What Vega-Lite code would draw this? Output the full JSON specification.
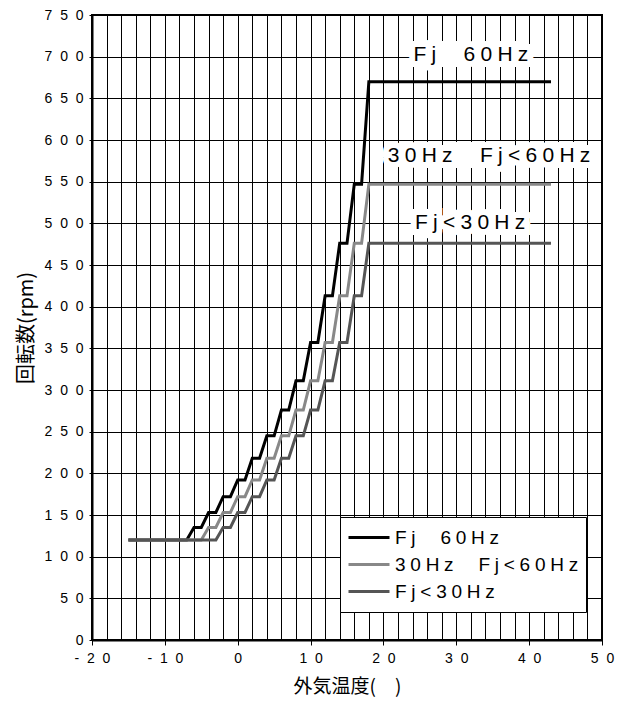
{
  "$schema": "https://vega.github.io/schema/vega-lite/v6.json",
  "width": 510,
  "height": 625,
  "autosize": {"type": "none"},
  "padding": {"left": 92, "top": 15, "right": 24, "bottom": 66},
  "background": "white",
  "config": {
    "view": {"stroke": "#000", "strokeWidth": 2},
    "font": "Liberation Sans",
    "axis": {
      "domainColor": "#000", "domainWidth": 2,
      "tickColor": "#000", "tickWidth": 1,
      "labelFont": "Liberation Sans", "labelFontSize": 14, "labelColor": "#000",
      "labelFlush": false, "labelOverlap": false,
      "titleFont": "Noto Sans CJK JP", "titleFontSize": 19, "titleFontWeight": "normal", "titleColor": "#000",
      "grid": true, "gridColor": "#000", "gridWidth": 1, "gridOpacity": 1
    }
  },
  "datasets": {
    "curves": [
      {"mode": "Fj  60Hz", "temp": -15, "rpm": 120},
      {"mode": "Fj  60Hz", "temp": -7, "rpm": 120},
      {"mode": "Fj  60Hz", "temp": -6, "rpm": 135},
      {"mode": "Fj  60Hz", "temp": -5, "rpm": 135},
      {"mode": "Fj  60Hz", "temp": -4, "rpm": 153},
      {"mode": "Fj  60Hz", "temp": -3, "rpm": 153},
      {"mode": "Fj  60Hz", "temp": -2, "rpm": 172},
      {"mode": "Fj  60Hz", "temp": -1, "rpm": 172},
      {"mode": "Fj  60Hz", "temp": 0, "rpm": 192},
      {"mode": "Fj  60Hz", "temp": 1, "rpm": 192},
      {"mode": "Fj  60Hz", "temp": 2, "rpm": 218},
      {"mode": "Fj  60Hz", "temp": 3, "rpm": 218},
      {"mode": "Fj  60Hz", "temp": 4, "rpm": 245},
      {"mode": "Fj  60Hz", "temp": 5, "rpm": 245},
      {"mode": "Fj  60Hz", "temp": 6, "rpm": 276},
      {"mode": "Fj  60Hz", "temp": 7, "rpm": 276},
      {"mode": "Fj  60Hz", "temp": 8, "rpm": 311},
      {"mode": "Fj  60Hz", "temp": 9, "rpm": 311},
      {"mode": "Fj  60Hz", "temp": 10, "rpm": 357},
      {"mode": "Fj  60Hz", "temp": 11, "rpm": 357},
      {"mode": "Fj  60Hz", "temp": 12, "rpm": 413},
      {"mode": "Fj  60Hz", "temp": 13, "rpm": 413},
      {"mode": "Fj  60Hz", "temp": 14, "rpm": 476},
      {"mode": "Fj  60Hz", "temp": 15, "rpm": 476},
      {"mode": "Fj  60Hz", "temp": 16, "rpm": 547},
      {"mode": "Fj  60Hz", "temp": 17, "rpm": 547},
      {"mode": "Fj  60Hz", "temp": 18, "rpm": 670},
      {"mode": "Fj  60Hz", "temp": 43, "rpm": 670},
      {"mode": "30Hz  Fj<60Hz", "temp": -15, "rpm": 120},
      {"mode": "30Hz  Fj<60Hz", "temp": -5, "rpm": 120},
      {"mode": "30Hz  Fj<60Hz", "temp": -4, "rpm": 135},
      {"mode": "30Hz  Fj<60Hz", "temp": -3, "rpm": 135},
      {"mode": "30Hz  Fj<60Hz", "temp": -2, "rpm": 153},
      {"mode": "30Hz  Fj<60Hz", "temp": -1, "rpm": 153},
      {"mode": "30Hz  Fj<60Hz", "temp": 0, "rpm": 172},
      {"mode": "30Hz  Fj<60Hz", "temp": 1, "rpm": 172},
      {"mode": "30Hz  Fj<60Hz", "temp": 2, "rpm": 192},
      {"mode": "30Hz  Fj<60Hz", "temp": 3, "rpm": 192},
      {"mode": "30Hz  Fj<60Hz", "temp": 4, "rpm": 218},
      {"mode": "30Hz  Fj<60Hz", "temp": 5, "rpm": 218},
      {"mode": "30Hz  Fj<60Hz", "temp": 6, "rpm": 245},
      {"mode": "30Hz  Fj<60Hz", "temp": 7, "rpm": 245},
      {"mode": "30Hz  Fj<60Hz", "temp": 8, "rpm": 276},
      {"mode": "30Hz  Fj<60Hz", "temp": 9, "rpm": 276},
      {"mode": "30Hz  Fj<60Hz", "temp": 10, "rpm": 311},
      {"mode": "30Hz  Fj<60Hz", "temp": 11, "rpm": 311},
      {"mode": "30Hz  Fj<60Hz", "temp": 12, "rpm": 357},
      {"mode": "30Hz  Fj<60Hz", "temp": 13, "rpm": 357},
      {"mode": "30Hz  Fj<60Hz", "temp": 14, "rpm": 413},
      {"mode": "30Hz  Fj<60Hz", "temp": 15, "rpm": 413},
      {"mode": "30Hz  Fj<60Hz", "temp": 16, "rpm": 476},
      {"mode": "30Hz  Fj<60Hz", "temp": 17, "rpm": 476},
      {"mode": "30Hz  Fj<60Hz", "temp": 18, "rpm": 547},
      {"mode": "30Hz  Fj<60Hz", "temp": 43, "rpm": 547},
      {"mode": "Fj<30Hz", "temp": -15, "rpm": 120},
      {"mode": "Fj<30Hz", "temp": -3, "rpm": 120},
      {"mode": "Fj<30Hz", "temp": -2, "rpm": 135},
      {"mode": "Fj<30Hz", "temp": -1, "rpm": 135},
      {"mode": "Fj<30Hz", "temp": 0, "rpm": 153},
      {"mode": "Fj<30Hz", "temp": 1, "rpm": 153},
      {"mode": "Fj<30Hz", "temp": 2, "rpm": 172},
      {"mode": "Fj<30Hz", "temp": 3, "rpm": 172},
      {"mode": "Fj<30Hz", "temp": 4, "rpm": 192},
      {"mode": "Fj<30Hz", "temp": 5, "rpm": 192},
      {"mode": "Fj<30Hz", "temp": 6, "rpm": 218},
      {"mode": "Fj<30Hz", "temp": 7, "rpm": 218},
      {"mode": "Fj<30Hz", "temp": 8, "rpm": 245},
      {"mode": "Fj<30Hz", "temp": 9, "rpm": 245},
      {"mode": "Fj<30Hz", "temp": 10, "rpm": 276},
      {"mode": "Fj<30Hz", "temp": 11, "rpm": 276},
      {"mode": "Fj<30Hz", "temp": 12, "rpm": 311},
      {"mode": "Fj<30Hz", "temp": 13, "rpm": 311},
      {"mode": "Fj<30Hz", "temp": 14, "rpm": 357},
      {"mode": "Fj<30Hz", "temp": 15, "rpm": 357},
      {"mode": "Fj<30Hz", "temp": 16, "rpm": 413},
      {"mode": "Fj<30Hz", "temp": 17, "rpm": 413},
      {"mode": "Fj<30Hz", "temp": 18, "rpm": 476},
      {"mode": "Fj<30Hz", "temp": 43, "rpm": 476}
    ],
    "notes": [
      {"label": "Fj  60Hz", "temp": 32.0, "rpm": 702},
      {"label": "30Hz  Fj<60Hz", "temp": 34.5, "rpm": 581},
      {"label": "Fj<30Hz", "temp": 31.9, "rpm": 500}
    ]
  },
  "layer": [
    {
      "data": {"name": "curves"},
      "mark": {"type": "line", "strokeWidth": 3, "strokeJoin": "miter"},
      "encoding": {
        "x": {
          "field": "temp", "type": "quantitative",
          "scale": {"domain": [-20, 50], "nice": false, "zero": false},
          "axis": {
            "values": [-20,-18,-16,-14,-12,-10,-8,-6,-4,-2,0,2,4,6,8,10,12,14,16,18,20,22,24,26,28,30,32,34,36,38,40,42,44,46,48,50],
            "tickCount": 100,
            "labelExpr": "datum.value % 10 === 0 ? replace('' + datum.value, regexp('(.)(?=.)','g'), '$1\u2007') : ''",
            "tickSize": 5,
            "tickOpacity": {"condition": {"test": "datum.value % 10 === 0", "value": 1}, "value": 0},
            "labelPadding": 6,
            "title": "外気温度(　)",
            "titlePadding": 12
          }
        },
        "y": {
          "field": "rpm", "type": "quantitative",
          "scale": {"domain": [0, 750], "nice": false, "zero": true},
          "axis": {
            "values": [0,50,100,150,200,250,300,350,400,450,500,550,600,650,700,750],
            "tickCount": 100,
            "labelExpr": "replace('' + datum.value, regexp('(.)(?=.)','g'), '$1\u2007')",
            "tickSize": 3,
            "labelPadding": 6,
            "title": "回転数(rpm)",
            "titleFontSize": 20,
            "titlePadding": 8
          }
        },
        "color": {
          "field": "mode", "type": "nominal",
          "scale": {"domain": ["Fj  60Hz", "30Hz  Fj<60Hz", "Fj<30Hz"], "range": ["#000000", "#888888", "#555555"]},
          "legend": {
            "title": null,
            "orient": "none", "legendX": 248, "legendY": 502,
            "direction": "vertical",
            "symbolType": "stroke", "symbolSize": 1681, "symbolStrokeWidth": 3,
            "labelFont": "Liberation Sans", "labelFontSize": 19, "labelColor": "#000",
            "labelExpr": "replace(datum.label, regexp('(.)(?=.)','g'), '$1\u2005')",
            "labelLimit": 400, "labelOffset": 4,
            "strokeColor": "#000", "fillColor": "#fff", "padding": 7,
            "rowPadding": 0, "clipHeight": 27
          }
        }
      }
    },
    {
      "data": {"name": "notes"},
      "transform": [
        {"calculate": "replace(replace(datum.label, regexp('(.)(?=.)','g'), '$1\u2005'), regexp(' ','g'), 'I')", "as": "halo"}
      ],
      "mark": {"type": "text", "font": "Liberation Sans", "fontSize": 21, "fill": "#fff", "stroke": "#fff", "strokeWidth": 12, "strokeJoin": "miter", "align": "center", "baseline": "middle"},
      "encoding": {
        "x": {"field": "temp", "type": "quantitative"},
        "y": {"field": "rpm", "type": "quantitative"},
        "text": {"field": "halo"}
      }
    },
    {
      "data": {"name": "notes"},
      "transform": [
        {"calculate": "replace(datum.label, regexp('(.)(?=.)','g'), '$1\u2005')", "as": "disp"}
      ],
      "mark": {"type": "text", "font": "Liberation Sans", "fontSize": 21, "fill": "#000", "align": "center", "baseline": "middle"},
      "encoding": {
        "x": {"field": "temp", "type": "quantitative"},
        "y": {"field": "rpm", "type": "quantitative"},
        "text": {"field": "disp"}
      }
    }
  ]
}
